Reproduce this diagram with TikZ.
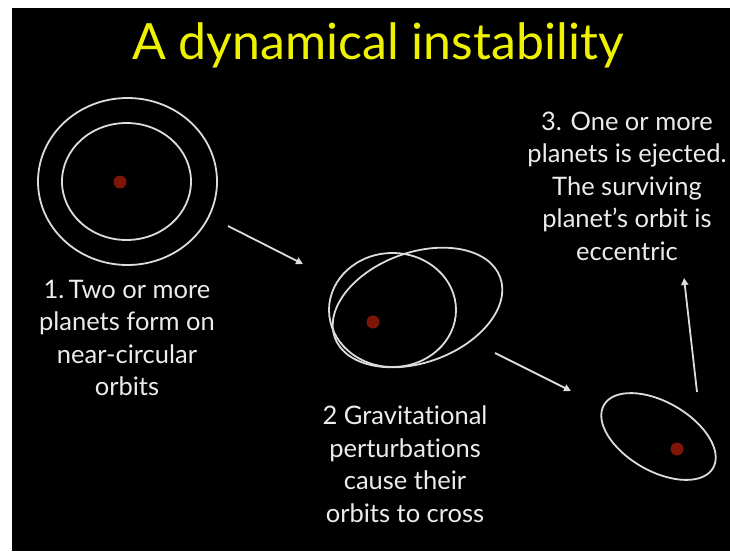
\documentclass[tikz,border=0pt]{standalone}
\usepackage{fontspec}
\setmainfont[Ligatures={NoCommon}]{Lato}
\usetikzlibrary{arrows.meta}
\definecolor{titleyellow}{RGB}{238,242,0}
\definecolor{txtgray}{RGB}{236,236,236}
\definecolor{orbitgray}{RGB}{220,220,220}
\definecolor{planetred}{RGB}{125,22,8}
\tikzset{
  orbit/.style={draw=orbitgray, line width=1.8pt},
  planet/.style={circle, fill=planetred, inner sep=0pt, minimum size=13pt},
  label/.style={text=txtgray, align=center, font=\fontsize{25.5}{32.5}\selectfont, inner sep=0pt},
  flow/.style={draw=orbitgray, line width=1.8pt, -{Triangle[length=7pt,width=7pt]}},
}
\begin{document}
\begin{tikzpicture}[x=1pt,y=-1pt]
\useasboundingbox (0,0) rectangle (730,551);
\fill[white] (0,0) rectangle (730,551);
\fill[black] (12,8) rectangle (730,551);
\node[text=titleyellow, font=\fontsize{50}{60}\selectfont, inner sep=0pt] (title) at (378,45) {A dynamical instability};
% stage 1
\draw[orbit] (127.5,181.5) ellipse [x radius=89.5pt, y radius=83.5pt];
\draw[orbit] (126.5,181.5) ellipse [x radius=64.5pt, y radius=58.5pt];
\node[planet] (p1) at (120,182) {};
\node[label] (t1) at (127,338) {1.\,Two or more\\planets form on\\near-circular\\orbits};
% stage 2
\draw[orbit] (392.5,310) ellipse [x radius=63.5pt, y radius=57pt];
\draw[orbit, rotate around={20:(417.5,307.5)}] (417.5,307.5) ellipse [x radius=88pt, y radius=55pt];
\node[planet] (p2) at (373,322) {};
\node[label] (t2) at (405,464) {2 Gravitational\\perturbations\\cause their\\orbits to cross};
% stage 3
\draw[orbit, rotate around={-30:(658.5,436.5)}] (658.5,436.5) ellipse [x radius=63pt, y radius=34.5pt];
\node[planet] (p3) at (677,449) {};
\node[label] (t3) at (627,186) {3. One or more\\planets is ejected.\\The surviving\\planet’s orbit is\\eccentric};
% arrows
\coordinate (a1s) at (228,226); \coordinate (a1e) at (303,264);
\coordinate (a2s) at (495,353); \coordinate (a2e) at (571,391);
\coordinate (a3s) at (697,392); \coordinate (a3e) at (684,278);
\draw[flow] (a1s) -- (a1e);
\draw[flow] (a2s) -- (a2e);
\draw[flow] (a3s) -- (a3e);
\end{tikzpicture}
\end{document}
